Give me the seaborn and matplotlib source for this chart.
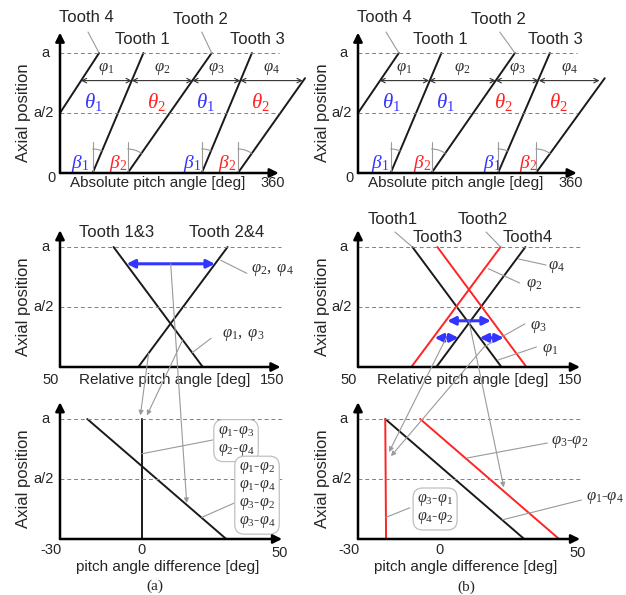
import numpy as np
import matplotlib
matplotlib.use("Agg")
import matplotlib.pyplot as plt
from matplotlib.patches import ConnectionPatch
import seaborn as sns

sns.set_style("white")
plt.rcParams['font.family'] = ['Liberation Sans', 'DejaVu Sans']
plt.rcParams['mathtext.fontset'] = 'custom'
plt.rcParams['mathtext.rm'] = 'Liberation Serif'
plt.rcParams['mathtext.it'] = 'Liberation Serif:italic'

# ---------------- data ----------------
# top row: absolute pitch angle [deg] of each tooth line at y=0 and at its upper end
top_a_x0 = [56, 116, 243, 305]
top_a_x1 = [143, 260, 329, 420]
top_b_x0 = [56, 126, 240, 305]
top_b_x1 = [143, 269, 329, 423]
top_y1 = [1, 1, 1, 0.79]
wrap_a_x = [0, 67]          # tooth 4 continuing from 0 deg
wrap_b_x = [0, 70]
wrap_y = [0.5, 1]
phi_y = 0.77
phi_a_x = [36, 123, 227, 309, 416]
phi_b_x = [37, 122, 236, 310, 414]
theta_a_x = [57, 166, 249, 343]
theta_b_x = [57, 149, 249, 343]
theta_a_idx = [1, 2, 1, 2]
theta_b_idx = [1, 1, 2, 2]
beta_a_x = [34, 100, 226, 286]
beta_b_x = [37, 109, 229, 291]
beta_idx = [1, 2, 1, 2]

# middle row: relative pitch angle [deg] at y=0 and at y=a
mid_a_13 = [118, 75.5]
mid_a_24 = [87.3, 129.8]
mid_a_span_x = [81.7, 123.8]
mid_a_span_y = [0.86]
mid_b_t1 = [118.3, 75.9]
mid_b_t3 = [130.2, 87.8]
mid_b_t2 = [75.4, 117.9]
mid_b_t4 = [87.3, 129.7]
mid_b_span_x0 = [92.5, 86.5, 107.9]
mid_b_span_x1 = [113.3, 97.9, 119.4]
mid_b_span_y = [0.385, 0.243, 0.243]

# bottom row: pitch angle difference [deg] at y=0 and at y=a
bot_a_vert = [0, 0]
bot_a_diag = [31, -20]
bot_b_vert = [-19.7, -20]
bot_b_diag = [31, -20]
bot_b_red = [43.8, -7.2]
levels = [0, 1]

BLACK = '#1a1a1a'
RED = '#ff2424'
BLUE = '#3434ff'
GRAY = '#9a9a9a'
SERIF = ['Liberation Serif', 'DejaVu Serif']

W, H = 626, 595
fig = plt.figure(figsize=(W / 100, H / 100), dpi=100)


def panel(px0, px1, py_top, xlim):
    ax = fig.add_axes([px0 / W, 1 - (py_top + 120) / H, (px1 - px0) / W, 120 / H])
    ax.set_xlim(*xlim)
    ax.set_ylim(0, 1)
    ax.axis('off')
    return ax


def seg(ax, xs, ys, color=BLACK, lw=1.4):
    sns.lineplot(x=xs, y=ys, ax=ax, color=color, lw=lw, estimator=None,
                 sort=False, clip_on=False, legend=False)


def lead(ax, p0, p1):
    ax.plot([p0[0], p1[0]], [p0[1], p1[1]], color=GRAY, lw=0.8, clip_on=False)


def frame(ax, xmin, xend, ytop, xlabel, xl_center, tick_l, tick_r, tick_r_x,
          ylab_dy, extra_ticks=()):
    for yy in [0.5, 1]:
        ax.plot([xmin, xend], [yy, yy], color='#808080', lw=0.7,
                ls=(0, (4, 3)), clip_on=False)
    ax.annotate('', xy=(xend, 0), xytext=(xmin, 0), annotation_clip=False,
                arrowprops=dict(arrowstyle='-|>', color='k', lw=1.8,
                                shrinkA=0, shrinkB=0, mutation_scale=13))
    ax.annotate('', xy=(xmin, ytop), xytext=(xmin, 0), annotation_clip=False,
                arrowprops=dict(arrowstyle='-|>', color='k', lw=1.8,
                                shrinkA=0, shrinkB=0, mutation_scale=13))
    kw = dict(textcoords='offset pixels', fontsize=10.5, va='center',
              annotation_clip=False)
    ax.annotate('a', xy=(xmin, 1), xytext=(-10, 0), ha='right', **kw)
    ax.annotate('a/2', xy=(xmin, 0.5), xytext=(-6, 0), ha='right', **kw)
    ax.annotate('Axial position', xy=(xmin, 0.5), xytext=(-36, 0), ha='center',
                rotation=90, textcoords='offset pixels', va='center', fontsize=12,
                annotation_clip=False)
    ax.annotate(tick_l, xy=(xmin, 0), xytext=(-9, -ylab_dy[0]), ha='center', **kw)
    ax.annotate(tick_r, xy=(tick_r_x, 0), xytext=(2, -ylab_dy[1]), ha='center', **kw)
    for t, tx in extra_ticks:
        ax.annotate(t, xy=(tx, 0), xytext=(0, -ylab_dy[0]), ha='center', **kw)
    ax.annotate(xlabel, xy=(xl_center, 0), xytext=(0, -ylab_dy[2]), ha='center',
                textcoords='offset pixels', va='center', fontsize=11,
                annotation_clip=False)


def arc(ax, x0, x1, y1, sx, sy, r=24):
    b = np.arctan2((x1 - x0) * sx, y1 * sy)
    t = np.linspace(0, b, 20)
    ax.plot(x0 + r * np.sin(t) / sx, r * np.cos(t) / sy, color=GRAY, lw=0.8)
    ax.plot([x0, x0], [0, 0.26], color=GRAY, lw=0.8)


def top_panel(ax, x0s, x1s, wrap_x, phis, thx, thi, btx):
    sx, sy = 210 / 360, 120
    for x0, x1, y1 in zip(x0s, x1s, top_y1):
        seg(ax, [x0, x1], [0, y1])
        arc(ax, x0, x1, y1, sx, sy)
    seg(ax, wrap_x, wrap_y)
    for a, b in zip(phis[:-1], phis[1:]):
        ax.annotate('', xy=(b, phi_y), xytext=(a, phi_y), annotation_clip=False,
                    arrowprops=dict(arrowstyle='<->', color='#333', lw=0.8,
                                    shrinkA=0, shrinkB=0, mutation_scale=8))
    for i, (a, b) in enumerate(zip(phis[:-1], phis[1:])):
        ax.text((a + b) / 2, 0.87, r'$\varphi_{%d}$' % (i + 1), ha='center',
                va='center', fontsize=12, color='#333')
    for x, i in zip(thx, thi):
        ax.text(x, 0.59, r'$\theta_{%d}$' % i, ha='center', va='center',
                fontsize=15, color=BLUE if i == 1 else RED)
    for x, i in zip(btx, beta_idx):
        ax.text(x, 0.08, r'$\beta_{%d}$' % i, ha='center', va='center',
                fontsize=14, color=BLUE if i == 1 else RED)
    tk = dict(ha='center', va='center', fontsize=12)
    ax.text(46, 1.30, 'Tooth 4', **tk)
    ax.text(141, 1.11, 'Tooth 1', **tk)
    ax.text(240, 1.28, 'Tooth 2', **tk)
    ax.text(338, 1.11, 'Tooth 3', **tk)
    lead(ax, (48, 1.175), (wrap_x[1], 1))
    lead(ax, (243, 1.175), (x1s[1], 1))
    frame(ax, 0, 375, 1.17, 'Absolute pitch angle [deg]', 168, '0', '360', 362,
          (5, 10, 10))


# ---------------- top row ----------------
ax_tl = panel(60, 270, 53, (0, 360))
ax_tr = panel(358, 568, 53, (0, 360))
top_panel(ax_tl, top_a_x0, top_a_x1, wrap_a_x, phi_a_x, theta_a_x, theta_a_idx, beta_a_x)
top_panel(ax_tr, top_b_x0, top_b_x1, wrap_b_x, phi_b_x, theta_b_x, theta_b_idx, beta_b_x)

# ---------------- middle row ----------------
ax_ml = panel(60, 270, 247, (50, 150))
ax_mr = panel(358, 568, 247, (50, 150))
phi_kw = dict(ha='left', va='center', fontsize=12, color='#333')
tk = dict(ha='center', va='center', fontsize=12)
dbl = dict(arrowstyle='<|-|>', color=BLUE, lw=2.2, shrinkA=0, shrinkB=0,
           mutation_scale=12)

seg(ax_ml, mid_a_13, levels)
seg(ax_ml, mid_a_24, levels)
ax_ml.annotate('', xy=(mid_a_span_x[1], mid_a_span_y[0]),
               xytext=(mid_a_span_x[0], mid_a_span_y[0]), arrowprops=dbl)
ax_ml.text(77, 1.12, 'Tooth 1&3', **tk)
ax_ml.text(129.5, 1.12, 'Tooth 2&4', **tk)
ax_ml.text(141, 0.81, r'$\varphi_2,\ \varphi_4$', **phi_kw)
lead(ax_ml, (126.5, 0.89), (139, 0.78))
ax_ml.text(127, 0.27, r'$\varphi_1,\ \varphi_3$', **phi_kw)
lead(ax_ml, (113, 0.12), (122, 0.24))
frame(ax_ml, 50, 155, 1.14, 'Relative pitch angle [deg]', 100, '50', '150', 150,
      (13, 13, 13))

seg(ax_mr, mid_b_t1, levels)
seg(ax_mr, mid_b_t4, levels)
seg(ax_mr, mid_b_t3, levels, color=RED)
seg(ax_mr, mid_b_t2, levels, color=RED)
for a, b, yy in zip(mid_b_span_x0, mid_b_span_x1, mid_b_span_y):
    ax_mr.annotate('', xy=(b, yy), xytext=(a, yy), arrowprops=dbl)
ax_mr.text(66.7, 1.23, 'Tooth1', **tk)
ax_mr.text(88, 1.08, 'Tooth3', **tk)
ax_mr.text(109.5, 1.23, 'Tooth2', **tk)
ax_mr.text(131, 1.08, 'Tooth4', **tk)
lead(ax_mr, (67.6, 1.125), (mid_b_t1[1], 1))
lead(ax_mr, (111, 1.125), (mid_b_t2[1], 1))
ax_mr.text(140.5, 0.83, r'$\varphi_4$', **phi_kw)
lead(ax_mr, (126.5, 0.9), (139.5, 0.85))
ax_mr.text(130, 0.68, r'$\varphi_2$', **phi_kw)
lead(ax_mr, (112, 0.82), (127, 0.7))
ax_mr.text(132, 0.33, r'$\varphi_3$', **phi_kw)
lead(ax_mr, (129.5, 0.36), (110, 0.167))
ax_mr.text(137.5, 0.14, r'$\varphi_1$', **phi_kw)
lead(ax_mr, (135, 0.167), (116.7, 0.058))
frame(ax_mr, 50, 155.7, 1.14, 'Relative pitch angle [deg]', 100, '50', '150', 150,
      (13, 13, 13))

# ---------------- bottom row ----------------
ax_bl = panel(60, 278, 419, (-30, 50))
ax_br = panel(358, 576, 419, (-30, 50))
box = dict(boxstyle='round,pad=0.25,rounding_size=0.6', fc='white', ec='#c0c0c0', lw=0.9)
bx = dict(ha='center', va='center', fontsize=11.5, color='#333',
          family=SERIF, linespacing=1.0, bbox=box)

seg(ax_bl, bot_a_vert, levels)
seg(ax_bl, bot_a_diag, levels)
ax_bl.text(34.6, 0.82, '$\\varphi_1$-$\\varphi_3$\n$\\varphi_2$-$\\varphi_4$', **bx)
lead(ax_bl, (0, 0.71), (26, 0.825))
ax_bl.text(42.3, 0.365, '$\\varphi_1$-$\\varphi_2$\n$\\varphi_1$-$\\varphi_4$\n'
           '$\\varphi_3$-$\\varphi_2$\n$\\varphi_3$-$\\varphi_4$', **bx)
lead(ax_bl, (22, 0.18), (34, 0.3))
frame(ax_bl, -30, 51.5, 1.14, 'pitch angle difference [deg]', 9.6, '-30', '50', 50,
      (11, 14, 28), extra_ticks=[('0', 0)])
ax_bl.text(4.9, -0.39, '(a)', ha='center', va='center', fontsize=11, family=SERIF)

seg(ax_br, bot_b_diag, levels)
seg(ax_br, bot_b_vert, levels, color=RED)
seg(ax_br, bot_b_red, levels, color=RED)
ax_br.text(41, 0.81, '$\\varphi_3$-$\\varphi_2$', ha='left', va='center',
           fontsize=12, color='#333', family=SERIF)
lead(ax_br, (10, 0.675), (39.5, 0.8))
ax_br.text(53.5, 0.34, '$\\varphi_1$-$\\varphi_4$', ha='left', va='center',
           fontsize=12, color='#333', family=SERIF)
lead(ax_br, (23, 0.16), (52, 0.325))
ax_br.text(-1.7, 0.25, '$\\varphi_3$-$\\varphi_1$\n$\\varphi_4$-$\\varphi_2$', **bx)
lead(ax_br, (-19.8, 0.18), (-11, 0.26))
frame(ax_br, -30, 51.5, 1.14, 'pitch angle difference [deg]', 9.6, '-30', '50', 50,
      (11, 14, 28), extra_ticks=[('0', 0)])
ax_br.text(9.6, -0.4, '(b)', ha='center', va='center', fontsize=11, family=SERIF)

# ---------------- arrows between the middle and bottom rows ----------------
links = [
    (ax_ml, (92.2, 0.115), ax_bl, (-0.5, 1.03)),
    (ax_ml, (108.4, 0.225), ax_bl, (1.9, 1.03)),
    (ax_ml, (102.7, 0.86), ax_bl, (16.5, 0.3)),
    (ax_mr, (92, 0.243), ax_br, (-18.6, 0.725)),
    (ax_mr, (110, 0.167), ax_br, (-17.9, 0.69)),
    (ax_mr, (102.8, 0.385), ax_br, (23.5, 0.43)),
]
for axa, pa, axb, pb in links:
    cp = ConnectionPatch(xyA=pa, coordsA=axa.transData, xyB=pb, coordsB=axb.transData,
                         arrowstyle='-|>', color=GRAY, lw=0.8, mutation_scale=7)
    fig.add_artist(cp)

fig.savefig('out.png', dpi=100)
